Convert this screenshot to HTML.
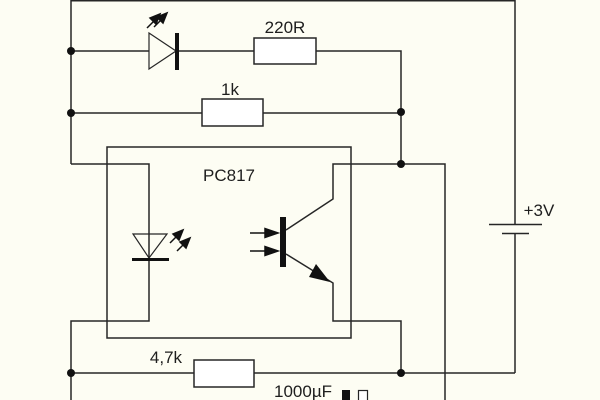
<!DOCTYPE html>
<html><head><meta charset="utf-8"><style>
html,body{margin:0;padding:0;background:#fdfdf3;}
svg{display:block;}
text{font-family:"Liberation Sans",Arial,sans-serif;font-size:17px;fill:#1e1e1e;}
</style></head><body>
<svg width="600" height="400" viewBox="0 0 600 400" xmlns="http://www.w3.org/2000/svg">
<rect width="600" height="400" fill="#fdfdf3"/>
<g stroke="#262626" stroke-width="1.5" fill="none">
<polyline points="71,164 71,0.7 515,0.7 515,224"/>
<line x1="515" y1="233" x2="515" y2="373"/>
<line x1="489" y1="224.5" x2="542" y2="224.5"/>
<line x1="502" y1="233.5" x2="529" y2="233.5"/>
<line x1="71" y1="51" x2="149" y2="51"/>
<line x1="177" y1="51" x2="254" y2="51"/>
<rect x="254" y="38" width="62" height="26" fill="#fff"/>
<polyline points="316,51 401,51 401,164"/>
<line x1="71" y1="113" x2="202" y2="113"/>
<rect x="202" y="99" width="61" height="27" fill="#fff"/>
<line x1="263" y1="113" x2="401" y2="113"/>
<rect x="107" y="147" width="244" height="191"/>
<polyline points="71,164 149,164 149,321 71,321 71,400"/>
<polyline points="286,230 333,199 333,164 445,164 445,400"/>
<polyline points="286,254 333,283 333,321 401,321 401,373"/>
<line x1="71" y1="373" x2="194" y2="373"/>
<rect x="194" y="360" width="60" height="27" fill="#fff"/>
<line x1="254" y1="373" x2="515" y2="373"/>
</g>
<polygon points="149,33 149,69 176,51" fill="none" stroke="#262626" stroke-width="1.2"/>
<rect x="175" y="33" width="4" height="37" fill="#111"/>
<g stroke="#111" stroke-width="1.5" fill="#111">
<line x1="147" y1="28" x2="155" y2="20"/>
<polygon points="160,14 150,18 156,24"/>
<line x1="154" y1="27" x2="162" y2="19"/>
<polygon points="167,13 157,17 163,23"/>
</g>
<polygon points="133,234 167,234 149,258" fill="none" stroke="#262626" stroke-width="1.2"/>
<rect x="132" y="258" width="37" height="3" fill="#111"/>
<g stroke="#111" stroke-width="1.5" fill="#111">
<line x1="170" y1="243" x2="178" y2="235"/>
<polygon points="183,230 173,234 179,240"/>
<line x1="177" y1="251" x2="185" y2="243"/>
<polygon points="190,238 180,242 186,248"/>
</g>
<rect x="280" y="217" width="6" height="50" fill="#111"/>
<g stroke="#111" stroke-width="1.5" fill="#111">
<line x1="250" y1="233" x2="268" y2="233"/>
<polygon points="278,233 265,228.5 265,237.5"/>
<line x1="250" y1="251" x2="268" y2="251"/>
<polygon points="278,251 265,246.5 265,255.5"/>
</g>
<polygon points="330,282 309,277 316,264" fill="#111"/>
<g fill="#111">
<circle cx="71" cy="51" r="4"/>
<circle cx="71" cy="113" r="4"/>
<circle cx="401" cy="112" r="4"/>
<circle cx="401" cy="164" r="4"/>
<circle cx="71" cy="373" r="4"/>
<circle cx="401" cy="373" r="4"/>
</g>
<rect x="342" y="390" width="8" height="12" fill="#111"/>
<rect x="358.5" y="390.5" width="9" height="12" fill="#fff" stroke="#262626" stroke-width="1.2"/>
<text x="285" y="33" text-anchor="middle">220R</text>
<text x="230" y="95" text-anchor="middle">1k</text>
<text x="229" y="181" text-anchor="middle">PC817</text>
<text x="539" y="216" text-anchor="middle">+3V</text>
<text x="166" y="363" text-anchor="middle">4,7k</text>
<text x="303" y="397" text-anchor="middle">1000µF</text>
</svg>
</body></html>
